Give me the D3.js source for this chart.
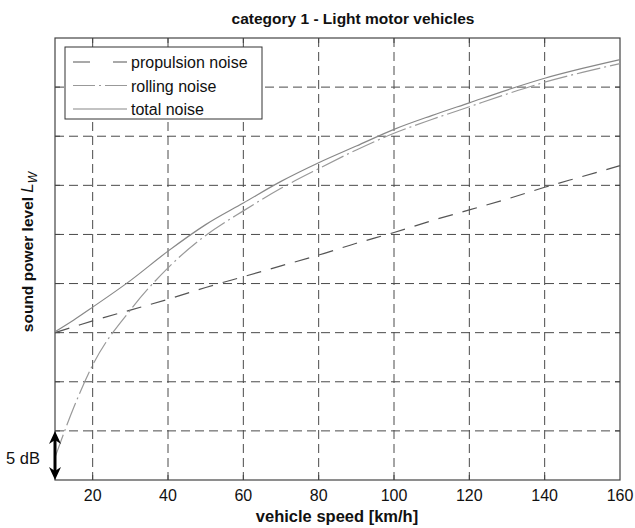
<!DOCTYPE html>
<html>
<head>
<meta charset="utf-8">
<script src="https://cdn.jsdelivr.net/npm/d3@7"></script>
<style>
  body { margin: 0; background: #fff; }
  svg { font-family: "Liberation Sans", Arial, sans-serif; }
</style>
</head>
<body>
<svg id="chart" width="635" height="528"></svg>
<script>
// speeds in km/h, levels in dB relative to the bottom of the plot
var speeds     = [10, 15, 20, 30, 40, 50, 60, 70, 80, 90, 100, 110, 120, 130, 140, 150, 160];
var propulsion = [15.0, 15.6, 16.2, 17.3, 18.4, 19.6, 20.7, 21.8, 22.9, 24.1, 25.2, 26.4, 27.5, 28.6, 29.8, 30.9, 32.0];
var rolling    = [2.3, 7.4, 11.7, 17.3, 21.6, 24.9, 27.4, 29.7, 31.7, 33.6, 35.3, 36.7, 38.0, 39.3, 40.5, 41.5, 42.4];
var total      = [15.1, 16.3, 17.6, 20.3, 23.3, 26.0, 28.2, 30.4, 32.3, 34.0, 35.7, 37.1, 38.4, 39.7, 40.9, 41.9, 42.8];
var xTicks = [20, 40, 60, 80, 100, 120, 140, 160];
var yTicks = [5, 10, 15, 20, 25, 30, 35, 40];
var legendNames = ["propulsion noise", "rolling noise", "total noise"];

var svg = d3.select("#chart");
var pLeft = 55, pRight = 620, pTop = 38, pBottom = 480;

var x = d3.scaleLinear().domain([10, 160]).range([pLeft, pRight]);
var y = d3.scaleLinear().domain([0, 45]).range([pBottom, pTop]);

// grid
var grid = svg.append("g");
grid.selectAll("line.vx").data(xTicks.slice(0, -1)).enter().append("line")
  .attr("x1", function(d){return x(d);}).attr("x2", function(d){return x(d);})
  .attr("y1", pTop).attr("y2", pBottom)
  .attr("stroke", "#4a4a4a").attr("stroke-dasharray", "9,5");
grid.selectAll("line.hy").data(yTicks).enter().append("line")
  .attr("x1", pLeft).attr("x2", pRight)
  .attr("y1", function(d){return y(d);}).attr("y2", function(d){return y(d);})
  .attr("stroke", "#4a4a4a").attr("stroke-dasharray", "9,5");

// frame and inward ticks
svg.append("rect").attr("x", pLeft).attr("y", pTop).attr("width", pRight - pLeft).attr("height", pBottom - pTop)
  .attr("fill", "none").attr("stroke", "#444").attr("stroke-width", 1.2);
var ticks = svg.append("g").attr("stroke", "#444");
xTicks.slice(0, -1).forEach(function(d){
  ticks.append("line").attr("x1", x(d)).attr("x2", x(d)).attr("y1", pTop).attr("y2", pTop + 5);
  ticks.append("line").attr("x1", x(d)).attr("x2", x(d)).attr("y1", pBottom).attr("y2", pBottom - 5);
});
yTicks.forEach(function(d){
  ticks.append("line").attr("x1", pLeft).attr("x2", pLeft + 5).attr("y1", y(d)).attr("y2", y(d));
  ticks.append("line").attr("x1", pRight).attr("x2", pRight - 5).attr("y1", y(d)).attr("y2", y(d));
});

// x tick labels
svg.selectAll("text.xt").data(xTicks).enter().append("text")
  .attr("x", function(d){return x(d);}).attr("y", pBottom + 21)
  .attr("text-anchor", "middle").attr("font-size", 16).attr("fill", "#111")
  .text(function(d){return d;});

// curves
var series = [
  {vals: propulsion, color: "#555", dash: "15,10"},
  {vals: rolling, color: "#999", dash: "24,4,2,4"},
  {vals: total, color: "#888", dash: null}
];
var line = d3.line().x(function(d){return x(d[0]);}).y(function(d){return y(d[1]);}).curve(d3.curveMonotoneX);
series.forEach(function(s){
  svg.append("path").attr("d", line(speeds.map(function(v, i){return [v, s.vals[i]];})))
    .attr("fill", "none").attr("stroke", s.color).attr("stroke-width", 1.2)
    .attr("stroke-dasharray", s.dash);
});

// legend
var lg = svg.append("g");
lg.append("rect").attr("x", 65).attr("y", 47).attr("width", 197).attr("height", 72)
  .attr("fill", "#fff").attr("stroke", "#333");
legendNames.forEach(function(name, i){
  var ly = 62 + i * 23.5;
  var sample = lg.append("line").attr("x1", 73).attr("x2", 127).attr("y1", ly).attr("y2", ly)
    .attr("stroke", series[i].color).attr("stroke-width", 1.1);
  if (i === 0) sample.attr("stroke-dasharray", "17,23,14");
  if (i === 1) sample.attr("stroke-dasharray", "22,4,2,4");
  lg.append("text").attr("x", 131).attr("y", ly + 6).attr("font-size", 16).attr("fill", "#111").text(name);
});

// 5 dB double arrow spanning one grid step
var a0 = y(5), a1 = y(0), ax = pLeft;
svg.append("line").attr("x1", ax).attr("x2", ax).attr("y1", a0 + 6).attr("y2", a1 - 6)
  .attr("stroke", "#000").attr("stroke-width", 3);
svg.append("path")
  .attr("d", "M" + ax + "," + a0 + " L" + (ax + 6) + "," + (a0 + 13) + " L" + ax + "," + (a0 + 9) +
             " L" + (ax - 6) + "," + (a0 + 13) + " Z" +
             "M" + ax + "," + a1 + " L" + (ax + 6) + "," + (a1 - 13) + " L" + ax + "," + (a1 - 9) +
             " L" + (ax - 6) + "," + (a1 - 13) + " Z")
  .attr("fill", "#000");
svg.append("text").attr("x", 6).attr("y", 464).attr("font-size", 16.5).attr("fill", "#111").text("5 dB");

// titles
svg.append("text").attr("x", 353).attr("y", 24).attr("text-anchor", "middle")
  .attr("font-size", 15.5).attr("font-weight", "bold").attr("fill", "#111")
  .text("category 1 - Light motor vehicles");
svg.append("text").attr("x", 337).attr("y", 522).attr("text-anchor", "middle")
  .attr("font-size", 16.5).attr("font-weight", "bold").attr("fill", "#111")
  .text("vehicle speed [km/h]");
var yl = svg.append("text").attr("transform", "translate(33,252) rotate(-90)")
  .attr("text-anchor", "middle").attr("font-size", 15.5).attr("font-weight", "bold").attr("fill", "#111");
yl.append("tspan").text("sound power level  ");
yl.append("tspan").attr("font-style", "italic").attr("font-weight", "normal").attr("font-size", 17).text("L");
yl.append("tspan").attr("font-style", "italic").attr("font-weight", "normal").attr("font-size", 12).attr("dy", 4).text("W");
</script>
</body>
</html>
